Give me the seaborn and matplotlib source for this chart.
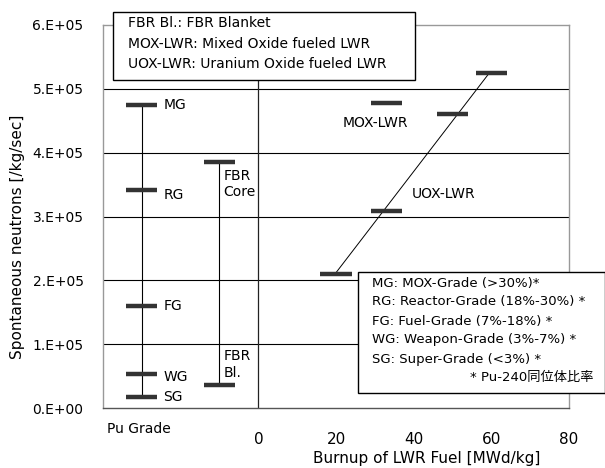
import numpy as np
import pandas as pd
import seaborn as sns
import matplotlib.pyplot as plt
from matplotlib.patches import Rectangle
from matplotlib.transforms import blended_transform_factory

# Data
grade_labels = ['MG', 'RG', 'FG', 'WG', 'SG']
grade_vals = [4.74e5, 3.41e5, 1.60e5, 0.53e5, 0.18e5]
grade_x = -30

fbr_labels = ['FBR\nCore', 'FBR\nBl.']
fbr_vals = [3.86e5, 0.355e5]
fbr_x = -10

mox_burnup = [33]
mox_vals = [4.78e5]

uox_burnup = [20, 33, 50, 60]
uox_vals = [2.10e5, 3.09e5, 4.60e5, 5.25e5]

trend_burnup = [20, 59.5]
trend_vals = [2.12e5, 5.25e5]

xtick_pos = [-40, -20, 0, 20, 40, 60, 80]
xtick_labels = ['', '', '0', '20', '40', '60', '80']
ytick_pos = [0, 1e5, 2e5, 3e5, 4e5, 5e5, 6e5]
ytick_labels = ['0.E+00', '1.E+05', '2.E+05', '3.E+05', '4.E+05', '5.E+05', '6.E+05']

legend1 = ['FBR Bl.: FBR Blanket',
           'MOX-LWR: Mixed Oxide fueled LWR',
           'UOX-LWR: Uranium Oxide fueled LWR']
legend2 = ['MG: MOX-Grade (>30%)*',
           'RG: Reactor-Grade (18%-30%) *',
           'FG: Fuel-Grade (7%-18%) *',
           'WG: Weapon-Grade (3%-7%) *',
           'SG: Super-Grade (<3%) *']
legend2_note = '* Pu-240同位体比率'

sns.set_style('white')
plt.rcParams['font.family'] = ['DejaVu Sans', 'Noto Sans CJK JP']
plt.rcParams.update({'text.color': 'black', 'axes.labelcolor': 'black',
                     'xtick.color': 'black', 'ytick.color': 'black'})

W, H = 605, 468
fig = plt.figure(figsize=(W / 100, H / 100), dpi=100)
ax = fig.add_axes([103 / W, 1 - 408 / H, 466 / W, 383 / H])

half = 4
bar_kw = dict(color='#333333', linewidth=3.2, zorder=4)

# Pu grade column
ax.vlines(grade_x, min(grade_vals), max(grade_vals), color='black', linewidth=0.8, zorder=3)
ax.hlines(grade_vals, grade_x - half, grade_x + half, **bar_kw)
for lab, v in zip(grade_labels, grade_vals):
    dy = -0.08e5 if lab == 'RG' else 0
    if lab == 'WG':
        dy = -0.05e5
    ax.text(grade_x + 5.5, v + dy, lab, fontsize=10, va='center', ha='left')

# FBR column
ax.vlines(fbr_x, min(fbr_vals), max(fbr_vals), color='black', linewidth=0.8, zorder=3)
ax.hlines(fbr_vals, fbr_x - half, fbr_x + half, **bar_kw)
ax.text(fbr_x + 1, fbr_vals[0] - 0.12e5, fbr_labels[0], fontsize=10, va='top',
        ha='left', linespacing=1.15)
ax.text(fbr_x + 1, fbr_vals[1] + 0.08e5, fbr_labels[1], fontsize=10, va='bottom',
        ha='left', linespacing=1.3)

# LWR
trend = pd.DataFrame({'burnup': trend_burnup, 'n': trend_vals})
sns.lineplot(data=trend, x='burnup', y='n', ax=ax, color='black', linewidth=0.7, zorder=3)
ax.hlines(mox_vals, np.array(mox_burnup) - half, np.array(mox_burnup) + half, **bar_kw)
ax.hlines(uox_vals, np.array(uox_burnup) - half, np.array(uox_burnup) + half, **bar_kw)
ax.text(30.1, 4.47e5, 'MOX-LWR', fontsize=10, ha='center', va='center')
ax.text(47.6, 3.35e5, 'UOX-LWR', fontsize=10, ha='center', va='center')

# axes styling
ax.set_xlim(-40, 80)
ax.set_ylim(0, 6e5)
ax.set_xticks(xtick_pos)
ax.set_xticklabels(xtick_labels, fontsize=11)
ax.set_yticks(ytick_pos)
ax.set_yticklabels(ytick_labels, fontsize=10)
ax.tick_params(axis='x', direction='in', length=4, width=0.8, color='#333333', pad=17)
ax.tick_params(axis='y', length=0, pad=14)
for y in ytick_pos[1:-1]:
    ax.axhline(y, color='black', linewidth=0.8, zorder=1)
ax.axvline(0, color='#222222', linewidth=0.9, zorder=1)
for s in ['left', 'top', 'right']:
    ax.spines[s].set_color('#999999')
    ax.spines[s].set_linewidth(1.0)
ax.spines['bottom'].set_color('#555555')
ax.spines['bottom'].set_linewidth(1.0)

tr = blended_transform_factory(ax.transData, ax.transAxes)
ax.text(-39, -0.055, 'Pu Grade', transform=tr, fontsize=10, ha='left', va='center')

ax.set_xlabel('Burnup of LWR Fuel [MWd/kg]', fontsize=11)
ax.set_ylabel('Spontaneous neutrons [/kg/sec]', fontsize=11)
ax.xaxis.set_label_coords((427 - 103) / 466, -(458 - 408) / 383)
ax.xaxis.label.set_va('center')
ax.yaxis.set_label_coords((18 - 103) / 466, (408 - 237) / 383)
ax.yaxis.label.set_va('center')


def box(x0, y0, x1, y1):
    fig.patches.append(Rectangle((x0 / W, 1 - y1 / H), (x1 - x0) / W, (y1 - y0) / H,
                                 transform=fig.transFigure, facecolor='white',
                                 edgecolor='black', linewidth=1.0, zorder=5))


box(113, 12, 415, 80)
for i, line in enumerate(legend1):
    fig.text(128 / W, 1 - (23 + 20.5 * i) / H, line, fontsize=10, va='center', ha='left', zorder=6)

box(358, 272, 604.5, 393)
for i, line in enumerate(legend2):
    fig.text(372 / W, 1 - (283 + 19 * i) / H, line, fontsize=9.5, va='center', ha='left', zorder=6)
fig.text(593 / W, 1 - 378 / H, legend2_note, fontsize=9.5, va='center', ha='right', zorder=6)

fig.savefig('out.png', dpi=100)
